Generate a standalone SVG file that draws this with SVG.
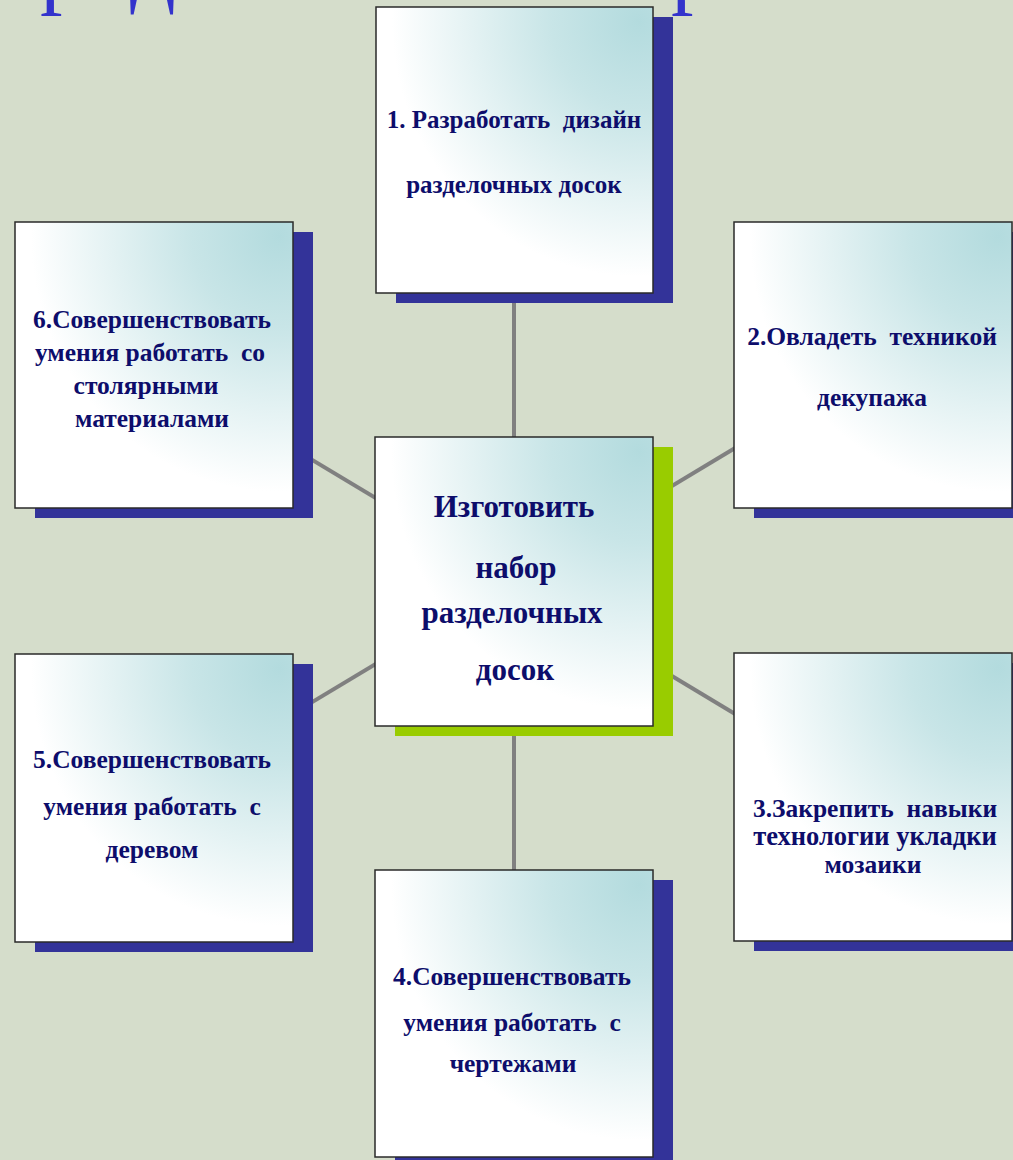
<svg xmlns="http://www.w3.org/2000/svg" width="1013" height="1160" viewBox="0 0 1013 1160">
<defs>
<radialGradient id="fillg" cx="0.95" cy="0.05" r="1.05" fx="0.95" fy="0.05">
<stop offset="0" stop-color="#b3dbde"/>
<stop offset="0.3" stop-color="#c8e5e7"/>
<stop offset="0.85" stop-color="#ffffff"/>
</radialGradient>
<style>
.box{fill:url(#fillg);stroke:#2a2a2a;stroke-width:1.5}
.sh{fill:#333399}
.shg{fill:#99cc00}
.t{font-family:"Liberation Serif","DejaVu Serif",serif;font-weight:bold;font-size:25.5px;fill:#0d0d6b;text-anchor:middle}
.tc{font-family:"Liberation Serif","DejaVu Serif",serif;font-weight:bold;font-size:31px;fill:#0d0d6b;text-anchor:middle}
.title{font-family:"Liberation Serif","DejaVu Serif",serif;font-size:90px;fill:#3333cc}
.con{stroke:#808080;stroke-width:4;fill:none}
</style>
</defs>
<rect x="0" y="0" width="1013" height="1160" fill="#d5ddcb"/>
<text class="title" y="-3"><tspan x="40">р</tspan><tspan x="130">д</tspan><tspan x="671">р</tspan></text>
<g id="connectors">
<line class="con" x1="514" y1="581" x2="514" y2="150"/>
<line class="con" x1="514" y1="581" x2="514" y2="1013"/>
<line class="con" x1="514" y1="581" x2="154" y2="365"/>
<line class="con" x1="514" y1="581" x2="873" y2="365"/>
<line class="con" x1="514" y1="581" x2="154" y2="797"/>
<line class="con" x1="514" y1="581" x2="873" y2="797"/>
</g>
<g id="node1">
<rect class="sh" x="396" y="17" width="277" height="286"/>
<rect class="box" x="376" y="7" width="277" height="286"/>
<text class="t" x="514" y="128" style="font-size:25px" xml:space="preserve">1. Разработать  дизайн</text>
<text class="t" x="514" y="193" style="font-size:25px">разделочных досок</text>
</g>
<g id="node2">
<rect class="sh" x="754" y="232" width="278" height="286"/>
<rect class="box" x="734" y="222" width="278" height="286"/>
<text class="t" x="872" y="345" xml:space="preserve">2.Овладеть  техникой</text>
<text class="t" x="872" y="406">декупажа</text>
</g>
<g id="node3">
<rect class="sh" x="754" y="663" width="278" height="288"/>
<rect class="box" x="734" y="653" width="278" height="288"/>
<text class="t" x="875" y="817" xml:space="preserve">3.Закрепить  навыки</text>
<text class="t" x="875" y="845" style="font-size:26.5px">технологии укладки</text>
<text class="t" x="873" y="873">мозаики</text>
</g>
<g id="node4">
<rect class="sh" x="395" y="880" width="278" height="287"/>
<rect class="box" x="375" y="870" width="278" height="287"/>
<text class="t" x="512" y="985">4.Совершенствовать</text>
<text class="t" x="512" y="1031" xml:space="preserve">умения работать  с</text>
<text class="t" x="513" y="1072">чертежами</text>
</g>
<g id="node5">
<rect class="sh" x="35" y="664" width="278" height="288"/>
<rect class="box" x="15" y="654" width="278" height="288"/>
<text class="t" x="152" y="768">5.Совершенствовать</text>
<text class="t" x="152" y="815" xml:space="preserve">умения работать  с</text>
<text class="t" x="152" y="858">деревом</text>
</g>
<g id="node6">
<rect class="sh" x="35" y="232" width="278" height="286"/>
<rect class="box" x="15" y="222" width="278" height="286"/>
<text class="t" x="152" y="328">6.Совершенствовать</text>
<text class="t" x="150" y="361" xml:space="preserve">умения работать  со</text>
<text class="t" x="146" y="394">столярными</text>
<text class="t" x="152" y="427">материалами</text>
</g>
<g id="center">
<rect class="shg" x="395" y="447" width="278" height="289"/>
<rect class="box" x="375" y="437" width="278" height="289"/>
<text class="tc" x="514" y="517">Изготовить</text>
<text class="tc" x="516" y="578">набор</text>
<text class="tc" x="512" y="623">разделочных</text>
<text class="tc" x="515" y="680">досок</text>
</g>
</svg>
